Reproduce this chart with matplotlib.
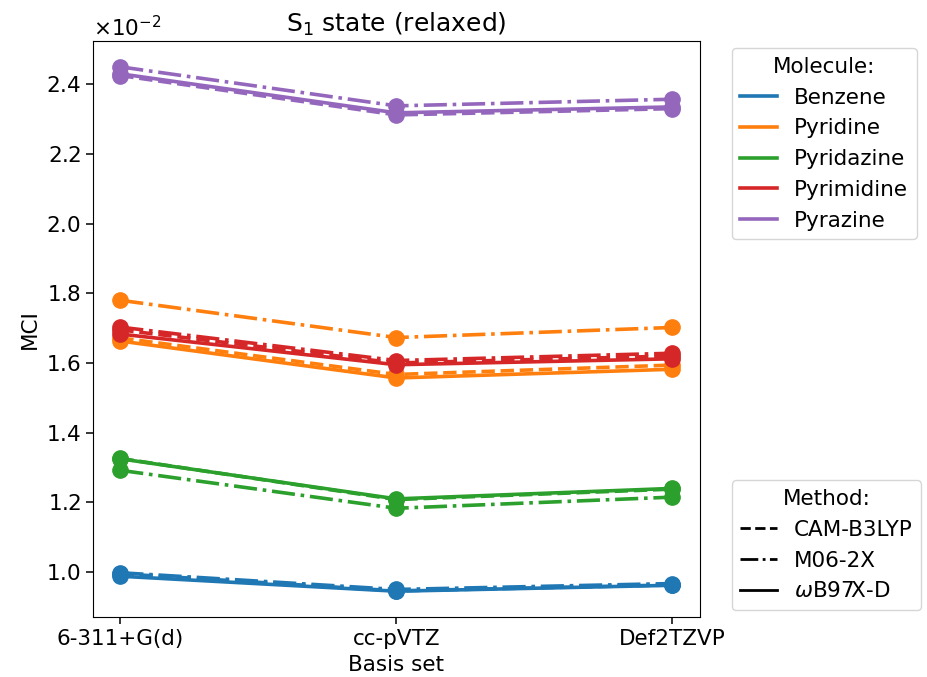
import numpy as np
import matplotlib.pyplot as plt
from matplotlib.lines import Line2D

basis = ["6-311+G(d)", "cc-pVTZ", "Def2TZVP"]
molecules = ["Benzene", "Pyridine", "Pyridazine", "Pyrimidine", "Pyrazine"]
methods = ["CAM-B3LYP", "M06-2X", r"$\omega$B97X-D"]
styles = ["--", "-.", "-"]
colors = ["tab:blue", "tab:orange", "tab:green", "tab:red", "tab:purple"]

# MCI values (x 1e-2), per molecule: [CAM-B3LYP, M06-2X, wB97X-D] over the basis sets
benzene = [[0.995, 0.946, 0.963], [0.998, 0.950, 0.967], [0.988, 0.945, 0.962]]
pyridine = [[1.672, 1.567, 1.594], [1.780, 1.673, 1.702], [1.663, 1.557, 1.582]]
pyridazine = [[1.326, 1.208, 1.238], [1.292, 1.183, 1.215], [1.325, 1.210, 1.240]]
pyrimidine = [[1.695, 1.600, 1.620], [1.703, 1.607, 1.628], [1.683, 1.595, 1.612]]
pyrazine = [[2.425, 2.312, 2.330], [2.450, 2.338, 2.357], [2.430, 2.318, 2.335]]
data = [benzene, pyridine, pyridazine, pyrimidine, pyrazine]

fs = 15.5
fig, ax = plt.subplots(figsize=(9.27, 6.77), dpi=100)
x = np.arange(len(basis))
for mol, col in zip(data, colors):
    for vals, ls in zip(mol, styles):
        ax.plot(x, np.array(vals) * 1e-2, ls=ls, color=col, marker="o",
                markersize=11, linewidth=2.6)

ax.set_xticks(x)
ax.set_xticklabels(basis, fontsize=fs)
ax.tick_params(axis="y", labelsize=fs)
ax.tick_params(length=5, width=1.1)
ax.ticklabel_format(axis="y", style="sci", scilimits=(0, 0), useMathText=True)
ax.yaxis.get_offset_text().set_fontsize(fs)
ax.set_xlabel("Basis set", fontsize=fs)
ax.set_ylabel("MCI", fontsize=fs)
ax.set_title(r"S$_1$ state (relaxed)", fontsize=18)

mol_handles = [Line2D([], [], color=c, lw=2.6) for c in colors]
leg1 = ax.legend(mol_handles, molecules, title="Molecule:", loc="upper left",
                 bbox_to_anchor=(1.04, 1.0), fontsize=fs, title_fontsize=fs,
                 handlelength=1.7, borderaxespad=0.35)
ax.add_artist(leg1)
meth_handles = [Line2D([], [], color="black", ls=s, lw=2) for s in styles]
ax.legend(meth_handles, methods, title="Method:", loc="lower left",
          bbox_to_anchor=(1.04, 0.0), fontsize=fs, title_fontsize=fs,
          handlelength=1.7, borderaxespad=0.35)

fig.subplots_adjust(left=0.1, right=0.755, top=0.94, bottom=0.088)
fig.savefig("out.png")
